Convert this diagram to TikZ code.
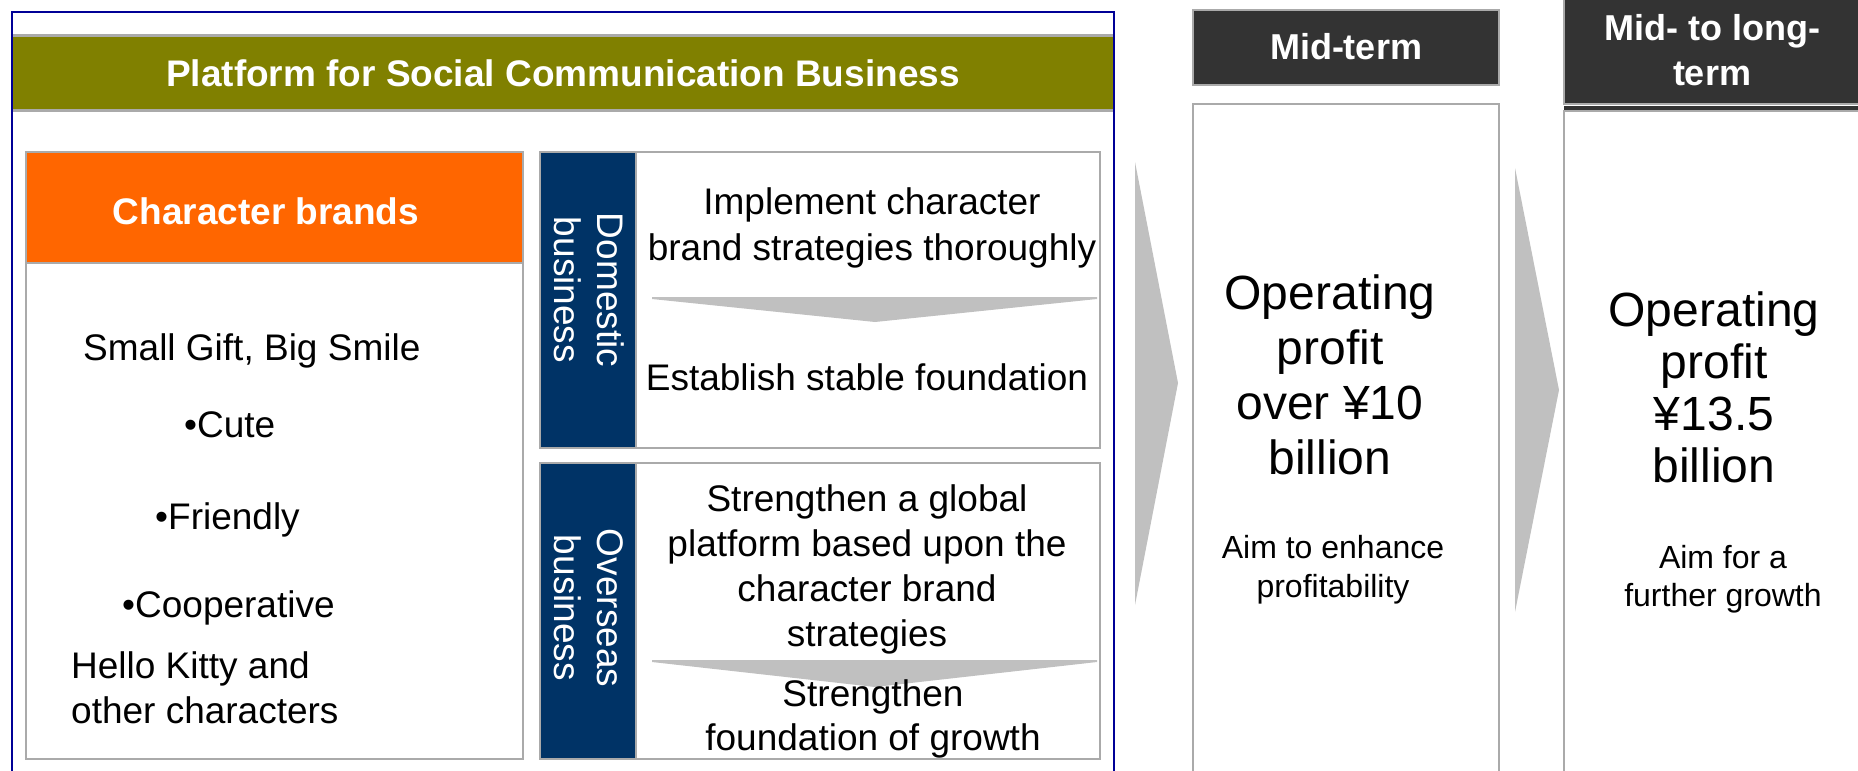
\documentclass[tikz,border=0pt]{standalone}
\usepackage{fontspec}
\setmainfont{Liberation Sans}
\definecolor{olivebar}{HTML}{808000}
\definecolor{brandorange}{HTML}{FF6600}
\definecolor{navystrip}{HTML}{003366}
\definecolor{darkhead}{HTML}{333333}
\definecolor{boxgray}{HTML}{AAAAAA}
\definecolor{chevgray}{HTML}{C0C0C0}
\definecolor{frameblue}{RGB}{0,0,150}
\begin{document}
\begin{tikzpicture}[x=1pt,y=-1pt,
  box/.style={draw=boxgray, line width=2.5pt, inner sep=0pt, outer sep=0pt},
  whitebox/.style={box, fill=white},
  txt/.style={inner sep=0pt, align=center, font=\fontsize{37}{46}\selectfont},
  boldtxt/.style={txt, text=white, font=\fontsize{37}{45}\selectfont\bfseries},
  bigtxt/.style={inner sep=0pt, align=center, font=\fontsize{48}{55}\selectfont},
  smalltxt/.style={inner sep=0pt, align=center, font=\fontsize{32}{38.5}\selectfont},
  striptxt/.style={inner sep=0pt, align=center, text=white, rotate=-90, font=\fontsize{37}{43}\selectfont},
  chev/.style={fill=chevgray}]
\clip (0,0) rectangle (1858,771);
\fill[white] (0,0) rectangle (1858,771);

% platform banner
\node[box, fill=olivebar, minimum width=1102pt, minimum height=75pt] (platform) at (563,73) {};
\node[boldtxt] (platformtxt) at (563,73) {Platform for Social Communication Business};

% outer frame of the platform block
\draw[frameblue, line width=2.5pt] (12,790) -- (12,12) -- (1114,12) -- (1114,790);

% character brands column
\node[box, fill=brandorange, minimum width=497pt, minimum height=111pt] (charhead) at (274.5,207.5) {};
\node[whitebox, minimum width=497pt, minimum height=496pt] (charbody) at (274.5,511) {};
\node[boldtxt] (chartitle) at (266,211) {Character brands};
\node[txt, anchor=west] (slogan) at (83,351) {Small Gift, Big Smile};
\node[txt, anchor=west] (cute) at (184,425) {•Cute};
\node[txt, anchor=west] (friendly) at (155,520) {•Friendly};
\node[txt, anchor=west] (coop) at (122,608) {•Cooperative};
\node[txt, anchor=west, align=left, font=\fontsize{37}{45}\selectfont] (kitty) at (71,688) {Hello Kitty and\\other characters};

% domestic business
\node[whitebox, minimum width=464pt, minimum height=296pt] (dompanel) at (868,300) {};
\node[box, fill=navystrip, minimum width=96pt, minimum height=296pt] (domstrip) at (588,300) {};
\node[striptxt] (domlabel) at (589,290) {Domestic\\business};
\node[txt] (domtop) at (872,227.5) {Implement character\\brand strategies thoroughly};
\fill[chev] (652,297) -- (1097,297) -- (1097,299) -- (875,322) -- (652,299) -- cycle;
\node[txt] (dombottom) at (867,377) {Establish stable foundation};

% overseas business
\node[whitebox, minimum width=464pt, minimum height=296pt] (ovpanel) at (868,611) {};
\node[box, fill=navystrip, minimum width=96pt, minimum height=296pt] (ovstrip) at (588,611) {};
\node[striptxt] (ovlabel) at (589,608) {Overseas\\business};
\node[txt, font=\fontsize{37}{45}\selectfont] (ovtop) at (867,569) {Strengthen a global\\platform based upon the\\character brand\\strategies};
\fill[chev] (652,660) -- (1097,660) -- (1097,662) -- (875,687) -- (652,662) -- cycle;
\node[txt, font=\fontsize{37}{44}\selectfont] (ovbottom) at (873,719) {Strengthen\\foundation of growth};

% step chevrons
\fill[chev] (1135,162) -- (1178,383) -- (1135,605) -- cycle;
\fill[chev] (1515,168) -- (1559,390) -- (1515,612) -- cycle;

% mid-term column
\node[box, fill=darkhead, minimum width=306pt, minimum height=75pt] (midhead) at (1346,47.5) {};
\node[boldtxt, font=\fontsize{36}{45}\selectfont\bfseries] (midtitle) at (1346,47) {Mid-term};
\node[whitebox, minimum width=306pt, minimum height=700pt] (midbody) at (1346,454) {};
\node[bigtxt] (midgoal) at (1330,375) {Operating\\profit\\over ¥10\\billion};
\node[smalltxt] (midaim) at (1333,569.5) {Aim to enhance\\profitability};

% mid- to long-term column
\node[box, fill=darkhead, minimum width=320pt, minimum height=114pt] (longhead) at (1724,47) {};
\fill[darkhead] (1564,106) rectangle (1870,110);
\draw[boxgray, line width=2.5pt] (1564,111) -- (1870,111);
\node[boldtxt, font=\fontsize{36}{45}\selectfont\bfseries] (longtitle) at (1712,50.5) {Mid- to long-\\term};
\node[whitebox, minimum width=320pt, minimum height=700pt] (longbody) at (1724,461) {};
\node[bigtxt, font=\fontsize{48}{52}\selectfont] (longgoal) at (1714,387) {Operating\\profit\\¥13.5\\billion};
\node[smalltxt] (longaim) at (1723,579) {Aim for a\\further growth};
\end{tikzpicture}
\end{document}
